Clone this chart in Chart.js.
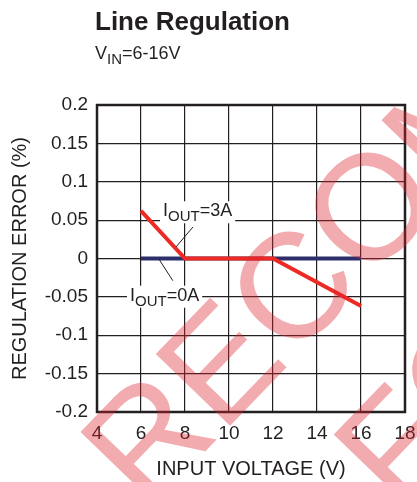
<!DOCTYPE html>
<html>
<head>
<meta charset="utf-8">
<script src="https://cdn.jsdelivr.net/npm/chart.js@4.4.1/dist/chart.umd.min.js"></script>
<style>
  html, body {margin: 0; padding: 0; background: #fff;}
  canvas {display: block;}
</style>
</head>
<body>
<canvas id="lineReg" width="417" height="482"></canvas>
<script>
// values
const inputVoltage = [6, 8, 12, 16]
const errorAt0A = [0, 0, 0, 0]
const errorAt3A = [0.062, 0, 0, -0.062]
const xTicks = [4, 6, 8, 10, 12, 14, 16, 18]
const yTicks = [-0.2, -0.15, -0.1, -0.05, 0, 0.05, 0.1, 0.15, 0.2]

const ink = '#231f20'
const font = 'Liberation Sans, Arial, sans-serif'

// text with a subscript part: [text, size, drop]
function drawParts(ctx, x, y, parts, bg) {
  let w = 0
  parts.forEach(p => { ctx.font = p[1] + 'px ' + font; w += ctx.measureText(p[0]).width })
  if (bg) {
    ctx.fillStyle = '#fff'
    ctx.fillRect(x - 3, y - 15, w + 6, 22)
  }
  ctx.fillStyle = ink
  ctx.textBaseline = 'alphabetic'
  ctx.textAlign = 'left'
  parts.forEach(p => {
    ctx.font = p[1] + 'px ' + font
    ctx.fillText(p[0], x, y + p[2])
    x += ctx.measureText(p[0]).width
  })
}

const frame = {
  id: 'frame',
  beforeDatasetsDraw(chart) {
    const {ctx, chartArea: a} = chart
    ctx.save()
    ctx.strokeStyle = ink
    ctx.lineWidth = 2.5
    ctx.strokeRect(a.left, a.top, a.right - a.left, a.bottom - a.top)
    ctx.restore()
  }
}

const notes = {
  id: 'notes',
  afterDatasetsDraw(chart) {
    const {ctx, scales: {x, y}} = chart
    ctx.save()
    // leader lines
    ctx.strokeStyle = ink
    ctx.lineWidth = 1
    ctx.beginPath()
    ctx.moveTo(x.getPixelForValue(7.59), y.getPixelForValue(0.015))
    ctx.lineTo(x.getPixelForValue(8.36), y.getPixelForValue(0.041))
    ctx.moveTo(x.getPixelForValue(6.82), y.getPixelForValue(-0.001))
    ctx.lineTo(x.getPixelForValue(7.45), y.getPixelForValue(-0.029))
    ctx.stroke()
    drawParts(ctx, x.getPixelForValue(7.0), y.getPixelForValue(0.055),
      [['I', 18, 0], ['OUT', 15, 5], ['=3A', 18, 0]], true)
    drawParts(ctx, x.getPixelForValue(5.5), y.getPixelForValue(-0.055),
      [['I', 18, 0], ['OUT', 15, 5], ['=0A', 18, 0]], true)

    // heading
    ctx.fillStyle = ink
    ctx.font = 'bold 26px ' + font
    ctx.fillText('Line Regulation', 95, 30)
    drawParts(ctx, 95, 59, [['V', 18, 0], ['IN', 15, 5], ['=6-16V', 18, 0]], false)
    ctx.restore()
  }
}

// diagonal pink stamp across the plot
const stamp = {
  id: 'stamp',
  afterDraw(chart) {
    const ctx = chart.ctx
    const fs = 150
    const ang = -46 * Math.PI / 180
    ctx.save()
    ctx.font = fs + 'px ' + font
    ctx.fillStyle = 'rgba(220, 35, 45, 0.38)'
    ctx.textBaseline = 'alphabetic'
    function put(text, prefix, cx, cy, half) {
      const ox = ctx.measureText(prefix).width + half * fs
      const oy = -0.36 * fs
      const sx = cx - (ox * Math.cos(ang) - oy * Math.sin(ang))
      const sy = cy - (ox * Math.sin(ang) + oy * Math.cos(ang))
      ctx.save()
      ctx.translate(sx, sy)
      ctx.rotate(ang)
      ctx.fillText(text, 0, 0)
      ctx.restore()
    }
    put('NOT  RECOMMENDED', 'NOT  REC', 368, 205, 0.39)
    put('FOR NEW DESIGNS', '', 392, 445, 0.3)
    ctx.restore()
  }
}

new Chart(document.getElementById('lineReg'), {
  type: 'line',
  data: {
    datasets: [
      {
        data: inputVoltage.map((v, i) => ({x: v, y: errorAt3A[i]})),
        borderColor: '#ed2a24',
        borderWidth: 4,
        order: 0,
      },
      {
        data: inputVoltage.map((v, i) => ({x: v, y: errorAt0A[i]})),
        borderColor: '#2d2f6b',
        borderWidth: 4,
        order: 1,
      },
    ],
  },
  options: {
    responsive: false,
    animation: false,
    devicePixelRatio: 1,
    borderCapStyle: 'butt',
    pointRadius: 0,
    tension: 0,
    layout: {padding: {top: 105, right: 12, left: 0, bottom: 0}},
    plugins: {legend: {display: false}, tooltip: {enabled: false}},
    scales: {
      x: {
        type: 'linear',
        min: 4,
        max: 18,
        afterBuildTicks: s => { s.ticks = xTicks.map(v => ({value: v})) },
        afterFit: s => { s.height = 70; s.paddingLeft = 0; s.paddingRight = 0 },
        border: {display: false},
        grid: {color: ink, lineWidth: 1.2, drawTicks: false},
        ticks: {color: ink, font: {family: font, size: 19}, padding: 10, maxRotation: 0},
        title: {display: true, text: 'INPUT VOLTAGE (V)', color: ink, font: {family: font, size: 20}, padding: {top: 0, bottom: 1}},
      },
      y: {
        min: -0.2,
        max: 0.2,
        afterBuildTicks: s => { s.ticks = yTicks.map(v => ({value: v})) },
        afterFit: s => { s.width = 97 },
        border: {display: false},
        grid: {color: ink, lineWidth: 1.2, drawTicks: false},
        ticks: {
          color: ink,
          font: {family: font, size: 19},
          padding: 9,
          callback: v => parseFloat(v.toFixed(2)).toString(),
        },
        title: {display: true, text: 'REGULATION ERROR (%)', color: ink, font: {family: font, size: 20}, padding: {top: 8, bottom: 0}},
      },
    },
  },
  plugins: [frame, notes, stamp],
})
</script>
</body>
</html>
